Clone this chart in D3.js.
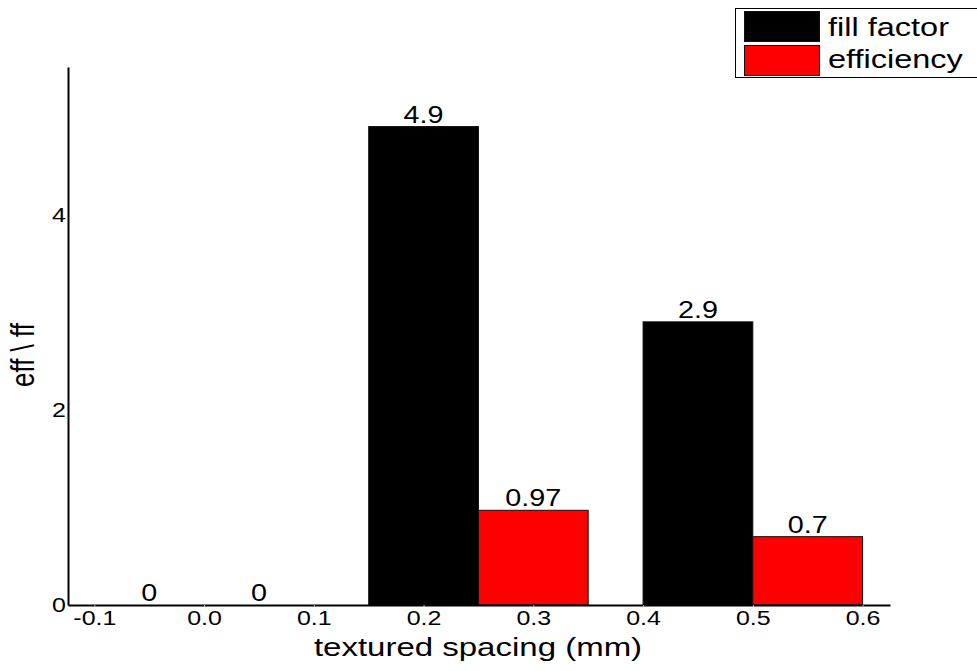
<!DOCTYPE html>
<html>
<head>
<meta charset="utf-8">
<script src="https://cdn.jsdelivr.net/npm/d3@7"></script>
<style>
  html, body { margin: 0; padding: 0; background: #fff; }
  svg { display: block; font-family: "Liberation Sans", Arial, Helvetica, sans-serif; }
</style>
</head>
<body>
<svg id="chart" width="977" height="671"></svg>
<script>
// ---- data ----
const groupPositions = [0.0, 0.25, 0.5];
const fillFactor = [0, 4.9, 2.9];
const efficiency = [0, 0.97, 0.7];
const fillFactorLabels = ["0", "4.9", "2.9"];
const efficiencyLabels = ["0", "0.97", "0.7"];
const seriesNames = ["fill factor", "efficiency"];
const seriesColors = ["#000000", "#ff0000"];
const xTickValues = [-0.1, 0.0, 0.1, 0.2, 0.3, 0.4, 0.5, 0.6];
const xTickLabels = ["-0.1", "0.0", "0.1", "0.2", "0.3", "0.4", "0.5", "0.6"];
const yTickValues = [0, 2, 4];
const yTickLabels = ["0", "2", "4"];
const barOffset = 0.05;   // half of bar width in data units
const barWidthData = 0.1;

// ---- layout ----
const SX = 1.25; // horizontal text stretch seen in reference
const svg = d3.select("#chart");
const x = d3.scaleLinear().domain([-0.124, 0.625]).range([68, 890]);
const y = d3.scaleLinear().domain([0, 5.51]).range([605, 67]);

// bars
const series = [
  { name: seriesNames[0], values: fillFactor, labels: fillFactorLabels, off: -barOffset, color: seriesColors[0] },
  { name: seriesNames[1], values: efficiency, labels: efficiencyLabels, off: barOffset, color: seriesColors[1] }
];
const bw = x(barWidthData) - x(0);
series.forEach(s => {
  const data = groupPositions.map((g, i) => ({ cx: g + s.off, v: s.values[i], label: s.labels[i] }));
  svg.append("g").selectAll("rect").data(data).join("rect")
    .attr("x", d => x(d.cx) - bw / 2)
    .attr("y", d => y(d.v))
    .attr("width", bw)
    .attr("height", d => y(0) - y(d.v))
    .attr("fill", s.color)
    .attr("stroke", "#111")
    .attr("stroke-width", 1);
  svg.append("g").selectAll("text").data(data).join("text")
    .attr("transform", d => `translate(${x(d.cx)},${y(d.v) - 4}) scale(${SX},1)`)
    .attr("text-anchor", "middle")
    .attr("font-size", 23)
    .attr("fill", "#000")
    .text(d => d.label);
});

// x axis
const xAxis = d3.axisBottom(x)
  .tickValues(xTickValues)
  .tickFormat((d, i) => xTickLabels[i])
  .tickSize(2)
  .tickSizeOuter(0);
const gx = svg.append("g").attr("transform", `translate(0,${y(0)})`).call(xAxis);
gx.select(".domain").attr("stroke", "#000").attr("stroke-width", 2);
gx.selectAll(".tick line").attr("stroke", "#bbb");
gx.selectAll(".tick text")
  .attr("y", 20).attr("dy", 0)
  .attr("transform", `scale(${SX},1)`)
  .attr("font-size", 20)
  .attr("font-family", "Liberation Sans, Arial, sans-serif")
  .attr("fill", "#000");

// y axis
const yAxis = d3.axisLeft(y)
  .tickValues(yTickValues)
  .tickFormat((d, i) => yTickLabels[i])
  .tickSize(0)
  .tickSizeOuter(0);
const gy = svg.append("g").attr("transform", `translate(${x.range()[0]},0)`).call(yAxis);
gy.select(".domain").attr("stroke", "#000").attr("stroke-width", 2);
gy.selectAll(".tick text")
  .attr("x", -2 / SX).attr("dy", "0.34em")
  .attr("transform", `scale(${SX},1)`)
  .attr("font-size", 20)
  .attr("font-family", "Liberation Sans, Arial, sans-serif")
  .attr("fill", "#000");

// axis titles
svg.append("text")
  .attr("transform", `translate(${(x.range()[0] + x.range()[1]) / 2 - 1},656) scale(${SX},1)`)
  .attr("text-anchor", "middle")
  .attr("font-size", 26.4)
  .attr("fill", "#000")
  .text("textured spacing (mm)");
svg.append("text")
  .attr("transform", `translate(34,355) scale(${SX},1) rotate(-90)`)
  .attr("text-anchor", "middle")
  .attr("font-size", 26)
  .attr("fill", "#000")
  .text("eff \\ ff");

// legend
const lg = svg.append("g");
lg.append("rect")
  .attr("x", 735.5).attr("y", 8.5).attr("width", 250).attr("height", 69)
  .attr("fill", "#fff").attr("stroke", "#000").attr("stroke-width", 1);
const swatchY = [11, 45];
const textY = [36, 68];
series.forEach((s, i) => {
  lg.append("rect")
    .attr("x", 744.5).attr("y", swatchY[i] + 0.5).attr("width", 75).attr("height", 30)
    .attr("fill", s.color).attr("stroke", "#111").attr("stroke-width", 1);
  lg.append("text")
    .attr("transform", `translate(828,${textY[i]}) scale(${SX},1)`)
    .attr("font-size", 26)
    .attr("fill", "#000")
    .text(s.name);
});
</script>
</body>
</html>
